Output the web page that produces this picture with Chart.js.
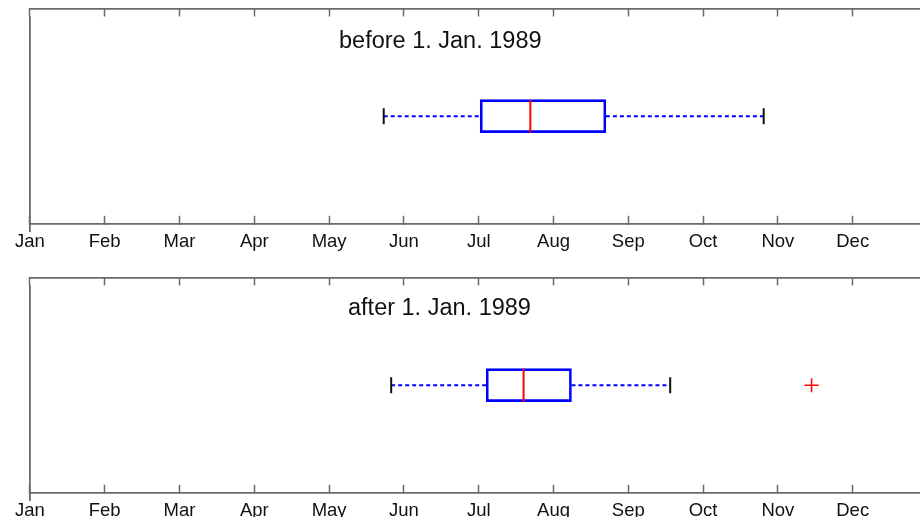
<!DOCTYPE html>
<html>
<head>
<meta charset="utf-8">
<script src="https://cdn.jsdelivr.net/npm/chart.js@4/dist/chart.umd.min.js"></script>
<style>
  html, body { margin: 0; padding: 0; background: #fff; width: 920px; height: 517px; overflow: hidden; }
  .panel { position: absolute; left: 0; width: 946px; height: 278px; }
  .ttl { position: absolute; font-family: "Liberation Sans", Arial, sans-serif; font-size: 23.5px; line-height: 1; color: #111; white-space: nowrap; }
</style>
</head>
<body>
<div class="panel" style="top:-2px"><canvas id="c1"></canvas></div>
<div class="panel" style="top:267px"><canvas id="c2"></canvas></div>
<div class="ttl" style="left:339px;top:29px">before 1. Jan. 1989</div>
<div class="ttl" style="left:348px;top:296px">after 1. Jan. 1989</div>
<script>
  // x values are months since 1 Jan (0 = 1 Jan, 12 = next 1 Jan)
  var months = ["Jan", "Feb", "Mar", "Apr", "May", "Jun", "Jul", "Aug", "Sep", "Oct", "Nov", "Dec"];
  var whiskerLow = [4.73, 4.83];
  var q1 = [6.02, 6.10];
  var median = [6.69, 6.60];
  var q3 = [7.70, 7.24];
  var whiskerHigh = [9.81, 8.56];
  var outliers = [[], [10.45]];

  var frameColor = "#6a6a6a";
  // vertical spot of the box inside the frame (inward ticks shift the y range a bit)
  var mid = 0.537;

  var makeChart = (id, i) => {
    new Chart(id, {
      type: "bar",
      data: {
        datasets: [
          {
            type: "scatter",
            order: 0,
            data: [{ x: median[i], y: mid }],
            pointStyle: "line",
            rotation: 90,
            radius: 16.5,
            borderColor: "#ff0000",
            borderWidth: 2
          },
          {
            type: "scatter",
            order: 1,
            data: outliers[i].map(v => ({ x: v, y: mid })),
            pointStyle: "cross",
            radius: 7,
            borderColor: "#ff0000",
            borderWidth: 1.5
          },
          {
            type: "scatter",
            order: 2,
            data: [{ x: whiskerLow[i], y: mid }, { x: whiskerHigh[i], y: mid }],
            pointStyle: "line",
            rotation: 90,
            radius: 8,
            borderColor: "#111",
            borderWidth: 2
          },
          {
            type: "bar",
            order: 3,
            indexAxis: "y",
            data: [{ x: [q1[i], q3[i]], y: mid }],
            barThickness: 33,
            backgroundColor: "rgba(0,0,0,0)",
            borderColor: "#0000ff",
            borderWidth: 2,
            borderSkipped: false
          },
          {
            type: "line",
            order: 4,
            data: [{ x: whiskerLow[i], y: mid }, { x: q1[i], y: mid }],
            borderColor: "#0000ff",
            borderWidth: 2,
            borderDash: [4, 3],
            pointRadius: 0,
            fill: false
          },
          {
            type: "line",
            order: 4,
            data: [{ x: q3[i], y: mid }, { x: whiskerHigh[i], y: mid }],
            borderColor: "#0000ff",
            borderWidth: 2,
            borderDash: [4, 3],
            pointRadius: 0,
            fill: false
          }
        ]
      },
      options: {
        responsive: true,
        maintainAspectRatio: false,
        animation: false,
        layout: { padding: { left: 20, top: 1, right: 6, bottom: 0 } },
        plugins: { legend: { display: false }, tooltip: { enabled: false } },
        scales: {
          x: {
            type: "linear",
            position: "bottom",
            offset: false,
            min: 0,
            max: 12,
            ticks: {
              stepSize: 1,
              padding: 15,
              color: "#111",
              font: { family: "'Liberation Sans', Arial, sans-serif", size: 18.5 },
              callback: v => months[v] || ""
            },
            grid: { offset: false, drawOnChartArea: false, tickLength: -8, color: frameColor, tickWidth: 1.5 },
            border: { color: frameColor, width: 1.8 }
          },
          xTop: {
            type: "linear",
            position: "top",
            offset: false,
            min: 0,
            max: 12,
            ticks: { stepSize: 1, display: false },
            grid: { offset: false, drawOnChartArea: false, tickLength: -8, color: frameColor, tickWidth: 1.5 },
            border: { color: frameColor, width: 1.8 }
          },
          y: {
            type: "linear",
            offset: false,
            min: 0,
            max: 1,
            ticks: { display: false },
            grid: { offset: false, display: false },
            border: { color: frameColor, width: 1.8 }
          }
        }
      }
    });
  };

  makeChart("c1", 0);
  makeChart("c2", 1);
</script>
</body>
</html>
